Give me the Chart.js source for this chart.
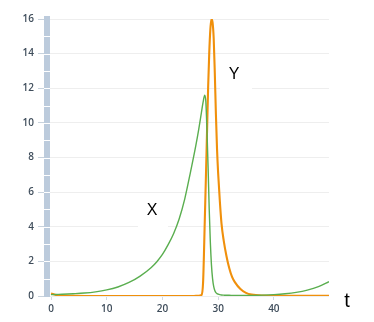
<!DOCTYPE html>
<html>
<head>
<meta charset="utf-8">
<script src="https://cdn.jsdelivr.net/npm/chart.js@4/dist/chart.umd.min.js"></script>
<style>
  html, body { margin: 0; padding: 0; background: #fff; }
  #wrap { width: 374px; height: 322px; }
</style>
</head>
<body>
<div id="wrap"><canvas id="chart" width="374" height="322"></canvas></div>
<script>
// time samples (shared by both series)
const tValues = [0, 1, 2, 4, 6, 8, 10, 12, 14, 16, 18, 19, 20, 21, 22, 23, 24, 25, 26, 26.5, 27, 27.3, 27.6, 27.8,
  28, 28.2, 28.4, 28.6, 28.8, 29, 29.2, 29.4, 29.6, 29.8, 30, 30.3, 30.6, 31, 31.5, 32, 32.5, 33, 34, 35, 36,
  38, 40, 42, 44, 46, 48, 49.9];
// prey X
const xValues = [0.08, 0.09, 0.1, 0.13, 0.17, 0.24, 0.35, 0.52, 0.78, 1.15, 1.65, 1.98, 2.4, 2.95, 3.6, 4.45, 5.6, 7.1, 8.7, 9.6, 10.6, 11.2, 11.6, 11.2,
  9.5, 7.4, 5.0, 3.1, 1.8, 1.0, 0.55, 0.32, 0.2, 0.14, 0.11, 0.08, 0.06, 0.05, 0.04, 0.04, 0.035, 0.03, 0.03, 0.03, 0.035,
  0.05, 0.08, 0.13, 0.21, 0.34, 0.54, 0.83];
// predator Y
const yValues = [0.15, 0.05, 0.02, 0.01, 0, 0, 0, 0, 0, 0, 0, 0, 0, 0, 0, 0, 0, 0, 0.005, 0.01, 0.05, 0.8, 4.3, 6.8,
  9.4, 12.0, 14.0, 15.4, 16.0, 15.8, 14.9, 12.9, 10.5, 8.5, 7.1, 5.5, 4.2, 3.2, 2.3, 1.6, 1.1, 0.8, 0.4, 0.18, 0.08,
  0.02, 0.01, 0.01, 0.01, 0.01, 0.01, 0.01];
const yTicks = [0, 2, 4, 6, 8, 10, 12, 14, 16];
const xTicks = [0, 10, 20, 30, 40];

// free text labels: [text, x px, y px, font size, box]
const notes = [
  { text: "X", x: 152, y: 211, size: 16, box: [138, 196, 30, 34] },
  { text: "Y", x: 234, y: 75, size: 16, box: [220, 60, 32, 31] },
  { text: "t", x: 347, y: 301, size: 20, box: null }
];

const notesPlugin = {
  id: "notes",
  beforeDatasetsDraw(chart) {
    const ctx = chart.ctx;
    ctx.save();
    notes.forEach(n => {
      if (n.box) {
        ctx.fillStyle = "#fff";
        ctx.fillRect(n.box[0], n.box[1], n.box[2], n.box[3]);
      }
    });
    ctx.restore();
  },
  afterDraw(chart) {
    const ctx = chart.ctx;
    const ys = chart.scales.y;
    const left = chart.chartArea.left;
    ctx.save();
    // white notches on the thick axis bar, one per unit
    ctx.strokeStyle = "#fff";
    ctx.lineWidth = 1;
    for (let v = 1; v < 16; v++) {
      const py = Math.round(ys.getPixelForValue(v)) + 0.5;
      ctx.beginPath();
      ctx.moveTo(left - 3, py);
      ctx.lineTo(left + 3, py);
      ctx.stroke();
    }
    ctx.fillStyle = "#000";
    ctx.textAlign = "center";
    ctx.textBaseline = "middle";
    notes.forEach(n => {
      ctx.font = n.size + "px 'Liberation Sans', Arial, sans-serif";
      ctx.fillText(n.text, n.x, n.y);
    });
    ctx.restore();
  }
};

const toPoints = vals => tValues.map((t, i) => ({ x: t, y: vals[i] }));

new Chart(document.getElementById("chart"), {
  type: "line",
  data: {
    datasets: [
      {
        label: "X",
        data: toPoints(xValues),
        borderColor: "#5aae4f",
        borderWidth: 1.4,
        pointRadius: 0,
        cubicInterpolationMode: "monotone",
        fill: false
      },
      {
        label: "Y",
        data: toPoints(yValues),
        borderColor: "#f0900c",
        borderWidth: 2.1,
        pointRadius: 0,
        cubicInterpolationMode: "monotone",
        fill: false
      }
    ]
  },
  options: {
    responsive: false,
    animation: false,
    layout: { padding: { top: 19, right: 45, bottom: 0, left: 0 } },
    plugins: { legend: { display: false }, tooltip: { enabled: false } },
    scales: {
      x: {
        type: "linear",
        min: -0.72,
        max: 49.9,
        afterFit: s => { s.height = 26; },
        afterBuildTicks: s => { s.ticks = xTicks.map(v => ({ value: v })); },
        ticks: {
          includeBounds: false,
          font: { family: "'Open Sans', sans-serif", size: 10, weight: "600" },
          color: "#3f4d5b",
          padding: 3,
          maxRotation: 0
        },
        grid: { drawOnChartArea: false, tickLength: 4, tickColor: "#d3dbe3" },
        border: { display: false }
      },
      y: {
        min: 0,
        max: 16,
        afterFit: s => { s.width = 47; },
        afterBuildTicks: s => { s.ticks = yTicks.map(v => ({ value: v })); },
        ticks: {
          font: { family: "'Open Sans', sans-serif", size: 10, weight: "600" },
          color: "#3f4d5b",
          padding: 4
        },
        grid: { color: "#eeeeee", tickLength: 9, tickColor: "#c8d2dc" },
        border: { display: true, width: 6, color: "#bccbdc" }
      }
    }
  },
  plugins: [notesPlugin]
});
</script>
</body>
</html>
